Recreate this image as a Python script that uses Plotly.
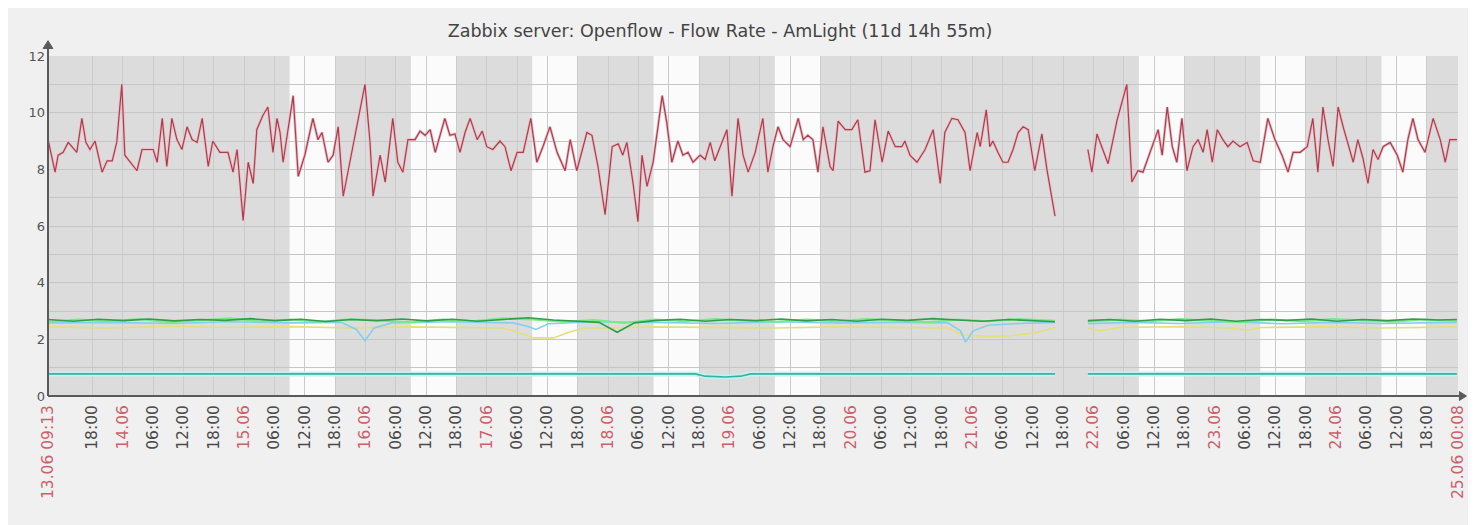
import datetime as dt
import plotly.graph_objects as go

# ---------------- data ----------------
START = dt.datetime(2015, 6, 13, 9, 13)
END = dt.datetime(2015, 6, 25, 0, 8)

# red series (hours since start, value)
red_hours_a = [0.0, 1.4, 2.0, 3.0, 4.0, 4.7, 5.7, 6.7, 7.5, 8.3, 9.3, 10.7, 11.7, 12.7, 13.6, 14.6, 15.2, 17.6, 18.6,
               20.8, 21.6, 22.6, 23.5, 24.5, 25.5, 26.5, 27.5, 28.5, 29.5, 30.5, 31.7, 32.6, 34.0, 35.6, 36.6, 37.4,
               38.6, 39.6, 40.6, 41.3, 42.5, 43.5, 44.5, 45.3, 45.9, 46.5, 48.5, 49.5, 50.8, 52.4, 53.4, 54.2, 55.4,
               56.4, 57.4, 58.4, 60.3, 62.7, 63.7, 64.3, 65.7, 66.7, 68.2, 69.2, 70.2, 71.2, 72.6, 73.6, 74.6, 75.6,
               76.6, 77.5, 78.5, 79.5, 80.5, 81.5, 82.5, 83.5, 84.9, 85.9, 86.8, 88.0, 89.4, 90.4, 91.6, 92.8, 94.0,
               95.5, 96.7, 97.9, 99.3, 100.7, 102.3, 103.3, 104.6, 106.6, 107.6, 108.8, 110.2, 111.6, 112.8, 113.7,
               114.5, 115.7, 116.7, 117.5, 118.5, 119.7, 121.5, 122.4, 123.4, 124.6, 125.6, 126.6, 127.6, 129.0,
               130.0, 131.0, 131.9, 133.3, 134.3, 135.3, 136.5, 137.5, 138.5, 139.9, 141.4, 142.4, 143.4, 144.4,
               145.4, 146.8, 148.4, 149.4, 150.3, 151.3, 152.3, 153.3, 154.7, 155.3, 156.3, 157.7, 159.0, 160.2,
               161.6, 162.6, 163.6, 165.0, 166.2, 167.6, 168.9, 169.5, 170.5, 171.9, 173.5, 175.1, 176.5, 177.4,
               178.8, 180.0, 181.4, 182.4, 183.8, 184.4, 185.6, 186.3, 186.9, 187.9, 188.9, 189.9, 190.9, 191.9,
               192.9, 193.9, 195.2, 196.6, 197.6, 199.2]
red_values_a = [9.06, 7.9, 8.5, 8.6, 8.95, 8.8, 8.6, 9.8, 8.95, 8.7, 9.0, 7.9, 8.3, 8.3, 8.95, 11.0, 8.5, 7.95, 8.7,
                8.7, 8.25, 9.8, 8.1, 9.8, 9.05, 8.7, 9.5, 9.05, 8.95, 9.8, 8.1, 9.0, 8.6, 8.6, 7.9, 8.7,
                6.2, 8.25, 7.5, 9.4, 9.9, 10.2, 8.6, 9.8, 9.3, 8.25, 10.6, 7.75, 8.5, 9.8, 9.05, 9.3, 8.25,
                8.5, 9.5, 7.05, 8.8, 11.0, 8.95, 7.05, 8.5, 7.55, 9.8, 8.25, 7.9, 9.05, 9.05, 9.35, 9.2, 9.4,
                8.6, 9.2, 9.8, 9.2, 9.25, 8.6, 9.3, 9.8, 9.05, 9.35, 8.8, 8.7, 9.0, 8.8, 7.95, 8.6, 8.6,
                9.8, 8.25, 8.8, 9.5, 8.6, 7.95, 9.05, 7.95, 9.3, 9.2, 8.1, 6.4, 8.8, 8.9, 8.5,
                8.95, 7.55, 6.15, 8.5, 7.4, 8.25, 10.6, 9.65, 8.25, 9.0, 8.5, 8.6, 8.25, 8.5,
                8.35, 8.95, 8.3, 8.95, 9.4, 7.05, 9.8, 8.5, 7.9, 8.6, 9.8, 7.9, 8.8, 9.5,
                9.05, 8.8, 9.8, 9.05, 9.2, 9.05, 7.9, 9.5, 8.1, 7.95, 9.7, 9.4, 9.4, 9.75,
                7.9, 7.95, 9.75, 8.25, 9.35, 8.8, 8.8, 9.0, 8.5, 8.25, 8.7, 9.4, 7.5, 9.3,
                9.8, 9.75, 9.3, 7.95, 9.3, 8.8, 10.1, 8.8, 9.0, 8.6, 8.25, 8.25, 8.7, 9.3,
                9.5, 9.4, 7.95, 9.25, 8.0, 6.35]
red_hours_b = [205.7, 206.5, 207.5, 209.7, 211.5, 213.4, 214.4, 215.6, 216.6, 218.4, 219.6, 220.4, 221.4, 222.4,
               223.3, 224.3, 225.3, 226.5, 227.5, 228.5, 229.3, 230.3, 231.3, 232.4, 233.4, 234.4, 235.8, 237.2,
               238.4, 239.8, 241.3, 242.7, 244.1, 245.3, 246.3, 247.7, 249.1, 250.2, 251.2, 252.2, 253.2, 254.2,
               255.2, 256.2, 257.2, 258.2, 259.1, 260.1, 261.1, 262.1, 263.1, 264.1, 265.5, 266.9, 268.0, 269.0,
               270.0, 271.0, 272.4, 274.0, 275.4, 276.4, 277.3, 278.7]
red_values_b = [8.7, 7.9, 9.25, 8.2, 9.75, 11.0, 7.55, 7.95, 7.9, 8.8, 9.4, 8.5, 10.2, 8.8,
                8.25, 9.8, 7.95, 8.8, 9.05, 8.6, 9.4, 8.25, 9.4, 9.05, 8.8, 9.0, 8.8, 8.95,
                8.3, 8.25, 9.8, 9.05, 8.5, 7.9, 8.6, 8.6, 8.8, 9.8, 7.9, 10.2, 9.05, 8.1,
                10.2, 9.5, 8.9, 8.25, 9.05, 8.4, 7.5, 8.7, 8.35, 8.8, 8.95, 8.5, 7.9, 9.05,
                9.8, 9.05, 8.6, 9.8, 9.05, 8.25, 9.05, 9.05]

# dark green
dgreen_hours_a = [0, 5, 10, 15, 20, 25, 30, 35, 40, 45, 50, 55, 60, 65, 70, 75, 80, 85, 90, 95, 100, 105, 109,
                  112.6, 116, 120, 125, 130, 135, 140, 145, 150, 155, 160, 165, 170, 175, 180, 185, 190, 195, 199.2]
dgreen_values_a = [2.70, 2.64, 2.71, 2.66, 2.72, 2.65, 2.70, 2.67, 2.73, 2.66, 2.71, 2.63, 2.70, 2.66, 2.72, 2.65,
                   2.71, 2.64, 2.70, 2.76, 2.68, 2.64, 2.60, 2.25, 2.58, 2.66, 2.71, 2.64, 2.70, 2.66, 2.72, 2.65,
                   2.70, 2.64, 2.71, 2.67, 2.73, 2.68, 2.64, 2.70, 2.66, 2.62]
dgreen_hours_b = [205.7, 210, 215, 220, 225, 230, 235, 240, 245, 250, 255, 260, 265, 270, 275, 278.7]
dgreen_values_b = [2.66, 2.70, 2.64, 2.71, 2.66, 2.72, 2.64, 2.70, 2.67, 2.72, 2.64, 2.70, 2.66, 2.72, 2.68, 2.70]

# light green
lgreen_hours_a = [0, 6, 12, 18, 24, 30, 36, 42, 48, 54, 60, 66, 72, 78, 84, 90, 96, 102, 108, 114, 120, 126, 132,
                  138, 144, 150, 156, 162, 168, 174, 180, 186, 192, 199.2]
lgreen_values_a = [2.62, 2.70, 2.64, 2.72, 2.60, 2.68, 2.74, 2.63, 2.70, 2.62, 2.72, 2.66, 2.60, 2.70, 2.64, 2.74,
                   2.70, 2.62, 2.68, 2.58, 2.70, 2.64, 2.72, 2.66, 2.62, 2.70, 2.64, 2.72, 2.66, 2.60, 2.70, 2.64,
                   2.72, 2.66]
lgreen_hours_b = [205.7, 212, 218, 224, 230, 236, 242, 248, 254, 260, 266, 272, 278.7]
lgreen_values_b = [2.62, 2.70, 2.64, 2.72, 2.66, 2.60, 2.70, 2.64, 2.72, 2.66, 2.62, 2.70, 2.66]

# light blue
blue_hours_a = [0, 12, 24, 36, 48, 58, 61, 62.7, 64.5, 68, 80, 92, 95, 96.5, 99, 108, 120, 132, 144, 156, 168, 178,
                180.5, 181.5, 183, 186, 192, 199.2]
blue_values_a = [2.58, 2.60, 2.56, 2.62, 2.58, 2.60, 2.35, 1.95, 2.40, 2.58, 2.62, 2.58, 2.45, 2.35, 2.55, 2.62,
                 2.60, 2.56, 2.62, 2.58, 2.60, 2.58, 2.30, 1.90, 2.30, 2.50, 2.56, 2.60]
blue_hours_b = [205.7, 214, 224, 234, 244, 254, 264, 278.7]
blue_values_b = [2.55, 2.60, 2.56, 2.62, 2.55, 2.60, 2.56, 2.60]

# yellow
yellow_hours_a = [0, 12, 24, 36, 48, 60, 72, 84, 90, 93, 96, 100, 103, 106, 112, 120, 132, 144, 156, 168, 178, 181,
                  186, 190, 194, 197, 199.2]
yellow_values_a = [2.44, 2.40, 2.46, 2.42, 2.45, 2.40, 2.44, 2.42, 2.40, 2.25, 2.05, 2.05, 2.25, 2.40, 2.40, 2.44,
                   2.42, 2.40, 2.44, 2.42, 2.40, 2.15, 2.10, 2.12, 2.20, 2.30, 2.42]
yellow_hours_b = [205.7, 208, 212, 224, 234, 237, 240, 252, 264, 278.7]
yellow_values_b = [2.40, 2.30, 2.42, 2.45, 2.40, 2.32, 2.42, 2.44, 2.40, 2.44]

# teal
teal_hours_a = [0, 128, 130, 134, 137, 139, 199.2]
teal_values_a = [0.78, 0.78, 0.70, 0.67, 0.70, 0.78, 0.78]
teal_hours_b = [205.7, 278.7]
teal_values_b = [0.78, 0.78]

WORK_DAYS = ["2015-06-15", "2015-06-16", "2015-06-17", "2015-06-18", "2015-06-19",
             "2015-06-22", "2015-06-23", "2015-06-24"]
WORK_START_H, WORK_END_H = 9, 18
Y_MAX = 12
TITLE = "Zabbix server: Openflow - Flow Rate - AmLight (11d 14h 55m)"

# ---------------- helpers ----------------
def series(ha, va, hb, vb):
    xs = [START + dt.timedelta(hours=h) for h in ha] + [None] + [START + dt.timedelta(hours=h) for h in hb]
    ys = list(va) + [None] + list(vb)
    return xs, ys

fig = go.Figure()

def add(ha, va, hb, vb, color, width):
    x, y = series(ha, va, hb, vb)
    fig.add_trace(go.Scatter(x=x, y=y, mode="lines", line=dict(color=color, width=width),
                             connectgaps=False, showlegend=False, hoverinfo="skip"))

add(teal_hours_a, teal_values_a, teal_hours_b, teal_values_b, "#c4f2f0", 5)
add(teal_hours_a, teal_values_a, teal_hours_b, teal_values_b, "#2fb5a5", 1.6)
add(yellow_hours_a, yellow_values_a, yellow_hours_b, yellow_values_b, "#e2e07a", 1.6)
add(blue_hours_a, blue_values_a, blue_hours_b, blue_values_b, "#84cfee", 1.6)
add(lgreen_hours_a, lgreen_values_a, lgreen_hours_b, lgreen_values_b, "#78ea84", 2.0)
add(dgreen_hours_a, dgreen_values_a, dgreen_hours_b, dgreen_values_b, "#2f9e48", 1.6)
add(red_hours_a, red_values_a, red_hours_b, red_values_b, "#ebbcc4", 2.8)
add(red_hours_a, red_values_a, red_hours_b, red_values_b, "#a83e4e", 1.2)

# tick positions: start, every 6 h, end
ticks = [START]
t = dt.datetime(2015, 6, 13, 18, 0)
while t < END - dt.timedelta(hours=1):
    ticks.append(t)
    t += dt.timedelta(hours=6)
ticks.append(END)
RED = "#cc5f6c"
GRAY = "#4a4a4a"
labels = []
for i, tk in enumerate(ticks):
    if i == 0 or i == len(ticks) - 1:
        labels.append(f"<span style='color:{RED}'>{tk:%d.%m %H:%M}</span>")
    elif tk.hour == 0:
        labels.append(f"<span style='color:{RED}'>{tk:%d.%m}</span>")
    else:
        labels.append(f"<span style='color:{GRAY}'>{tk:%H:%M}</span>")

shapes = []
for d in WORK_DAYS:
    day = dt.datetime.strptime(d, "%Y-%m-%d")
    shapes.append(dict(type="rect", xref="x", yref="paper",
                       x0=day + dt.timedelta(hours=WORK_START_H), x1=day + dt.timedelta(hours=WORK_END_H),
                       y0=0, y1=1, fillcolor="#fbfbfb", line=dict(width=0), layer="below"))
AX = "#5a5a5a"
# axes lines with arrow heads (paper coords)
shapes += [
    dict(type="line", xref="paper", yref="paper", x0=0, x1=0, y0=0, y1=1.035, line=dict(color=AX, width=2)),
    dict(type="line", xref="paper", yref="paper", x0=0, x1=1.004, y0=0, y1=0, line=dict(color=AX, width=2)),
    dict(type="path", xref="paper", yref="paper",
         path="M -0.0035,1.022 L 0.0035,1.022 L 0,1.045 Z", fillcolor=AX, line=dict(color=AX, width=1)),
    dict(type="path", xref="paper", yref="paper",
         path="M 1.001,-0.013 L 1.001,0.013 L 1.006,0 Z", fillcolor=AX, line=dict(color=AX, width=1)),
]

FIG_W, FIG_H = 1468, 517   # page adds an 8 px body margin
fig.update_layout(
    width=FIG_W, height=FIG_H, autosize=False,
    margin=dict(l=40, r=18, t=48, b=129),
    paper_bgcolor="#f0f0f0", plot_bgcolor="#dcdcdc",
    title=dict(text=TITLE, x=712 / FIG_W, xanchor="center", y=1 - 23 / FIG_H, yanchor="middle",
               font=dict(family="DejaVu Sans", size=17.5, color="#444444")),
    shapes=shapes,
    showlegend=False,
    font=dict(family="DejaVu Sans"),
)
fig.update_xaxes(range=[START, END], tickvals=ticks, ticktext=labels, tickangle=-90, automargin=False,
                 tickfont=dict(size=15.5, color=GRAY), showgrid=True, gridcolor="#cbcbcb", gridwidth=1,
                 zeroline=False, showline=False, ticks="", ticklabelstandoff=5)
fig.update_yaxes(range=[0, Y_MAX], tickvals=list(range(0, Y_MAX + 1)), automargin=False,
                 ticktext=[str(v) if v % 2 == 0 else "" for v in range(0, Y_MAX + 1)],
                 tickfont=dict(size=13, color="#555555"), showgrid=True, gridcolor="#c6c6c6", gridwidth=1,
                 zeroline=False, showline=False, ticks="", ticklabelstandoff=2)

fig.write_html("out.html")
